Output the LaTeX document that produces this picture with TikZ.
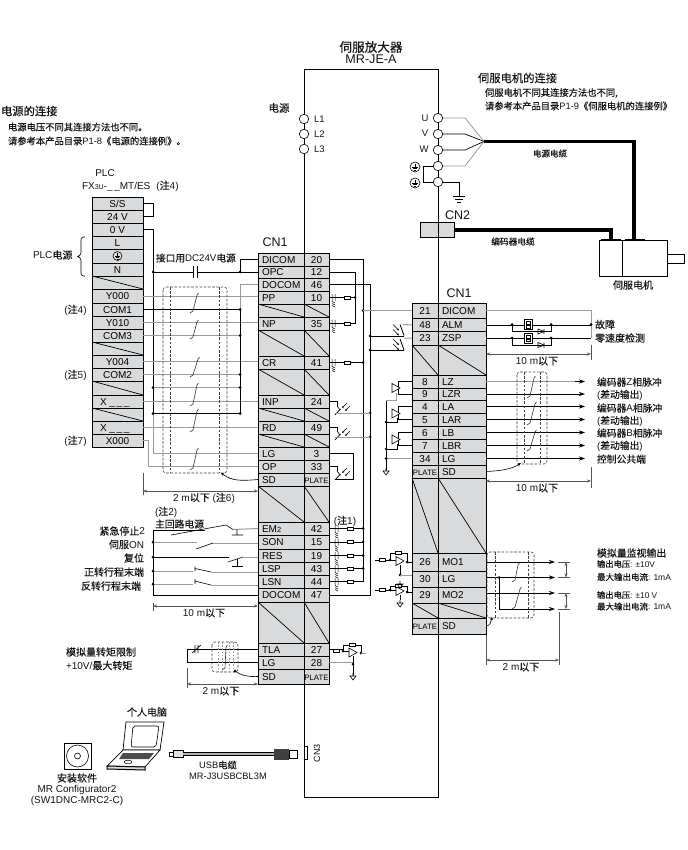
\documentclass[tikz,border=0pt]{standalone}
\usepackage{fontspec}
\setmainfont{Liberation Sans}
\newfontfamily\cjk[FakeBold=0.25]{Noto Sans CJK SC}
\usetikzlibrary{arrows.meta,calc}
\definecolor{cellgray}{HTML}{D9DADC}
\definecolor{wiregray}{HTML}{9A9A9A}
\definecolor{dimgray}{HTML}{555555}
\newcommand\zh[1]{{\cjk #1}}
\newcommand\fsz[1]{\fontsize{#1}{#1}\selectfont}
\tikzset{
  wb/.style={line width=.75pt,black},
  wg/.style={line width=1pt,wiregray},
  sym/.style={line width=.6pt,black},
  thickcable/.style={line width=3.6pt,black,line cap=butt},
  cellbox/.style={draw=black,line width=.8pt,fill=cellgray,inner sep=0pt,outer sep=0pt,text height=7.2pt,text depth=0pt,anchor=north west},
  txt/.style={inner sep=0pt,outer sep=0pt,text=black!92},
  dimline/.style={line width=.6pt,dimgray},
  dimarr/.style={line width=.6pt,dimgray,{Stealth[length=4pt,width=3pt]}-{Stealth[length=4pt,width=3pt]}},
  outarr/.style={line width=.75pt,-{Stealth[length=6pt,width=4pt]}},
  shieldbox/.style={line width=.6pt,dash pattern=on 2.6pt off 1.6pt,black!75},
  port/.style={draw=black,line width=.6pt,fill=white,circle,minimum size=9.5pt,inner sep=0pt,outer sep=0pt},
}
% name, x0,y0,x1,y1, alignment (l/c), text
\newcommand\tcell[7]{%
  \pgfmathsetlengthmacro\cw{(#4-#2)*1pt}%
  \pgfmathsetlengthmacro\ch{(#5-#3)*1pt}%
  \node[cellbox,minimum width=\cw,minimum height=\ch,font=\fsz{10}] (#1) at (#2,#3)
    {\makebox[\cw][#6]{\if#6l\hspace{4pt}\fi #7}};}
\newcommand\bcell[4]{%
  \draw[line width=.8pt,fill=cellgray] (#1,#3) rectangle (#2,#4);
  \draw[line width=.7pt] (#1,#3) -- (#2,#4);}
\newcommand\dual[5]{\bcell{#1}{#2}{#4}{#5}\bcell{#2}{#3}{#4}{#5}}
\newcommand\lab[6]{\node[txt,anchor=#2,font=\fsz{#5}] (#1) at (#3,#4) {#6};}
\newcommand\dotat[1]{\fill (#1) circle (1.5pt);}
\newcommand\res[2]{\draw[sym,fill=white] ($(#1,#2)+(-3.2,-1.7)$) rectangle ($(#1,#2)+(3.2,1.7)$);}
\newcommand\ledm[2]{\draw[line width=.5pt] (#1-2,#2-3.5)--(#1-2,#2+3.5) (#1+1,#2-3.5)--(#1+1,#2+3.5)
   (#1-2,#2+4)--(#1+1,#2+5.5) (#1-2,#2+6)--(#1+1,#2+7.5) (#1-2,#2+8)--(#1+1,#2+9.5);}
% left opto: base point x,y is collector wire turn; arrows upper right
\newcommand\optl[2]{\draw[sym] (#1,#2)--(#1+3,#2+4);
  \draw[line width=.7pt] (#1+3.5,#2+3)--(#1-2,#2+9);
  \draw[line width=.45pt,-{Stealth[length=2.5pt,width=2pt]}] (#1+10,#2-3)--(#1+5,#2+2);
  \draw[line width=.45pt,-{Stealth[length=2.5pt,width=2pt]}] (#1+13,#2)--(#1+8,#2+5);}
% right opto: collector at x,y going left
\newcommand\optr[2]{\draw[line width=.8pt] (#1,#2)--(#1+4,#2+11);
  \draw[line width=.5pt,-{Stealth[length=2.5pt,width=2pt]}] (#1-7,#2)--(#1-1,#2+6);
  \draw[line width=.5pt,-{Stealth[length=2.5pt,width=2pt]}] (#1-7,#2+5)--(#1-1,#2+11);}
\newcommand\twist[4]{\draw[line width=.6pt,black!80] (#1+1.5,#2)--(#1,#2+2)--(#3,#4-2)--(#3-3,#4);}
\newcommand\shield[6]{\draw[shieldbox,rounded corners=3pt] (#1,#2) rectangle (#3,#4);
   \draw[shieldbox] (#5,#2)--(#5,#4) (#6,#2)--(#6,#4);}
\newcommand\opa[2]{\draw[sym,fill=white] (#1-4,#2-4.5)--(#1+4,#2)--(#1-4,#2+4.5)--cycle;}
\newcommand\gtri[2]{\draw[sym] (#1,#2)--(#1,#2+3) (#1-3,#2+3)--(#1+3,#2+3)--(#1,#2+7)--cycle;}
\newcommand\earthsym[2]{\draw[line width=.5pt] (#1,#2-3.2)--(#1,#2) (#1-2.8,#2)--(#1+2.8,#2) (#1-1.9,#2+1.4)--(#1+1.9,#2+1.4) (#1-1,#2+2.8)--(#1+1,#2+2.8);}
\begin{document}
\begin{tikzpicture}[x=1pt,y=-1pt]
\useasboundingbox (0,0) rectangle (687,850);
\fill[white] (0,0) rectangle (687,850);
% ---------- amplifier ----------
\node[draw=black,line width=.8pt,anchor=north west,minimum width=134pt,minimum height=728pt,inner sep=0pt,outer sep=0pt] (amp) at (304,69) {};
\lab{ampA}{center}{371}{47}{12.6}{\zh{伺服放大器}}
\lab{ampB}{center}{371}{59.5}{12.6}{MR-JE-A}
% ---------- headings ----------
\lab{h1}{west}{1}{111}{11.3}{\zh{电源的连接}}
\lab{h1a}{west}{8}{127}{9.3}{\zh{电源电压不同其连接方法也不同。}}
\lab{h1b}{west}{8}{141}{9.3}{\zh{请参考本产品目录}P1-8\zh{《电源的连接例》。}}
\lab{h2}{west}{478}{78}{11.3}{\zh{伺服电机的连接}}
\lab{h2a}{west}{485}{93}{9.3}{\zh{伺服电机不同其连接方法也不同,}}
\lab{h2b}{west}{485}{106}{9.3}{\zh{请参考本产品目录}P1-9\zh{《伺服电机的连接例》}}
\lab{psu}{center}{279}{108}{10.5}{\zh{电源}}
% ---------- power terminals ----------
\node[port] (pL1) at (304,119) {};
\node[port] (pL2) at (304,134) {};
\node[port] (pL3) at (304,149) {};
\lab{tL1}{west}{314}{119}{9.5}{L1}
\lab{tL2}{west}{314}{134}{9.5}{L2}
\lab{tL3}{west}{314}{149}{9.5}{L3}
\coordinate (fan) at (484,141.5);
\coordinate (fanU) at (465,118);
\coordinate (fanV) at (465,134);
\coordinate (fanW) at (465,150);
\coordinate (fanE) at (465,166);
\node[port] (pU) at (438,118) {};
\node[port] (pV) at (438,134) {};
\node[port] (pW) at (438,150) {};
\node[port] (pE1) at (438,166) {};
\node[port] (pE2) at (438,182) {};
\lab{tU}{center}{425}{118}{9.5}{U}
\lab{tV}{center}{425}{133}{9.5}{V}
\lab{tW}{center}{424}{149}{9.5}{W}
\draw[wg,line width=.8pt] (pU.east)--(fanU)--(fan);
\draw[wb,line width=.7pt] (pV.east)--(fanV)--(fan);
\draw[wb,line width=.7pt] (pW.east)--(fanW)--(fan);
\draw[wg,line width=.8pt] (pE1.east)--(fanE)--(fan);
\node[port,minimum size=10pt] (e1) at (415,167) {};
\node[port,minimum size=10pt] (e2) at (415,183) {};
\earthsym{415}{167}\earthsym{415}{183}
\draw[wb] (pE1.west)--(423,166)--(423,182)--(pE2.west);
\coordinate (gndA) at (459,196);
\draw[wb] (pE2.east)-|(gndA);
\draw[line width=.6pt] (453,196)--(465,196) (455,199)--(463,199) (457,202)--(461,202);
% ---------- motor, cables ----------
\node[draw=black,line width=.8pt,anchor=north west,minimum width=68pt,minimum height=36pt,inner sep=0pt,outer sep=0pt] (motor) at (599,240) {};
\draw[line width=.8pt] (622,240)--(622,276);
\draw[line width=.8pt] (667,254) rectangle (684,263);
\draw[thickcable] (fan)--(634,141.5)--(634,240);
\draw[line width=2pt] (601,240)--(621,240) (625,240)--(645,240);
\node[cellbox,minimum width=34pt,minimum height=15.5pt,text height=0pt] (cn2) at (420,222) {};
\draw[line width=.7pt] (438,222)--(438,237.5);
\draw[thickcable] (cn2.east)-|(611,240);
\lab{tCN2}{center}{457.5}{215}{12.5}{CN2}
\lab{tpc}{center}{550}{153.5}{8.5}{\zh{电源电缆}}
\lab{tec}{center}{513}{241.5}{8.7}{\zh{编码器电缆}}
\lab{tmot}{center}{633}{285}{10}{\zh{伺服电机}}
% ---------- PLC labels ----------
\lab{plc}{center}{105}{173}{10}{PLC}
\lab{plcb}{west}{82}{186}{10}{FX{\fsz{7}3U}-\_\,\_MT/ES\hspace{6pt}(\zh{注}4)}
\lab{plcpow}{west}{33}{255}{10}{PLC\zh{电源}}
\draw[line width=.6pt,rounded corners=2.5pt] (85,237)--(81,237)--(81,255)--(77,256.5)--(81,258)--(81,276)--(85,276);
\lab{n4t}{center}{75.5}{310}{10}{(\zh{注}4)}
\lab{n5t}{center}{75.5}{375}{10}{(\zh{注}5)}
\lab{n7t}{center}{75.5}{441}{10}{(\zh{注}7)}
\lab{dc}{west}{156}{258}{9.7}{\zh{接口用}DC24V\zh{电源}}
\lab{cnl}{center}{275}{242}{12.5}{CN1}
\lab{cnr}{center}{459}{293}{12.5}{CN1}
% ---------- PLC cells ----------
\tcell{pSS}{92}{197}{143}{210}{c}{S/S}
\tcell{pTF}{92}{210}{143}{223}{c}{24 V}
\tcell{pZV}{92}{223}{143}{236}{c}{0 V}
\tcell{pL}{92}{236}{143}{249}{c}{L}
\tcell{pEa}{92}{249}{143}{263}{c}{}
\node[port,minimum size=9pt,fill=cellgray] (pEc) at (117.5,256) {};\earthsym{117.5}{256}
\tcell{pN}{92}{263}{143}{276}{c}{N}
\bcell{92}{143}{276}{289}
\tcell{pYa}{92}{289}{143}{303}{c}{Y000}
\tcell{pCa}{92}{303}{143}{316}{c}{COM1}
\tcell{pYb}{92}{316}{143}{329}{c}{Y010}
\tcell{pCb}{92}{329}{143}{342}{c}{COM3}
\bcell{92}{143}{342}{355}
\tcell{pYc}{92}{355}{143}{368}{c}{Y004}
\tcell{pCc}{92}{368}{143}{381}{c}{COM2}
\bcell{92}{143}{381}{395}
\tcell{pXa}{92}{395}{143}{408}{l}{\hspace{4pt}X \_\,\_\,\_}
\bcell{92}{143}{408}{421}
\tcell{pXb}{92}{421}{143}{434}{l}{\hspace{4pt}X \_\,\_\,\_}
\tcell{pXc}{92}{434}{143}{447}{c}{X000}
% ---------- CN1 left cells ----------
\tcell{lDICOM}{258}{253}{304}{266}{l}{DICOM}\tcell{r20}{304}{253}{329}{266}{c}{20}
\tcell{lOPC}{258}{266}{304}{278}{l}{OPC}\tcell{r12}{304}{266}{329}{278}{c}{12}
\tcell{lDOCOM}{258}{278}{304}{291}{l}{DOCOM}\tcell{r46}{304}{278}{329}{291}{c}{46}
\tcell{lPP}{258}{291}{304}{304}{l}{PP}\tcell{r10}{304}{291}{329}{304}{c}{10}
\dual{258}{304}{329}{304}{317}
\tcell{lNP}{258}{317}{304}{330}{l}{NP}\tcell{r35}{304}{317}{329}{330}{c}{35}
\dual{258}{304}{329}{330}{356}
\tcell{lCR}{258}{356}{304}{369}{l}{CR}\tcell{r41}{304}{356}{329}{369}{c}{41}
\dual{258}{304}{329}{369}{395}
\tcell{lINP}{258}{395}{304}{408}{l}{INP}\tcell{r24}{304}{395}{329}{408}{c}{24}
\dual{258}{304}{329}{408}{421}
\tcell{lRD}{258}{421}{304}{434}{l}{RD}\tcell{r49}{304}{421}{329}{434}{c}{49}
\dual{258}{304}{329}{434}{447}
\tcell{lLG}{258}{447}{304}{460}{l}{LG}\tcell{r3}{304}{447}{329}{460}{c}{3}
\tcell{lOP}{258}{460}{304}{473}{l}{OP}\tcell{r33}{304}{460}{329}{473}{c}{33}
\tcell{lSD}{258}{473}{304}{486}{l}{SD}\tcell{rPa}{304}{473}{329}{486}{c}{\fsz{7.8}PLATE}
\dual{258}{304}{329}{486}{522}
\tcell{lEM}{258}{522}{304}{535}{l}{EM{\fsz{7.5}2}}\tcell{r42}{304}{522}{329}{535}{c}{42}
\tcell{lSON}{258}{535}{304}{549}{l}{SON}\tcell{r15}{304}{535}{329}{549}{c}{15}
\tcell{lRES}{258}{549}{304}{562}{l}{RES}\tcell{r19}{304}{549}{329}{562}{c}{19}
\tcell{lLSP}{258}{562}{304}{575}{l}{LSP}\tcell{r43}{304}{562}{329}{575}{c}{43}
\tcell{lLSN}{258}{575}{304}{588}{l}{LSN}\tcell{r44}{304}{575}{329}{588}{c}{44}
\tcell{lDOb}{258}{588}{304}{602}{l}{DOCOM}\tcell{r47}{304}{588}{329}{602}{c}{47}
\dual{258}{304}{329}{602}{643}
\tcell{lTLA}{258}{643}{304}{656}{l}{TLA}\tcell{r27}{304}{643}{329}{656}{c}{27}
\tcell{lLGb}{258}{656}{304}{669}{l}{LG}\tcell{r28}{304}{656}{329}{669}{c}{28}
\tcell{lSDb}{258}{669}{304}{684}{l}{SD}\tcell{rPb}{304}{669}{329}{684}{c}{\fsz{7.8}PLATE}
% ---------- CN1 right cells ----------
\tcell{n21}{412}{303}{438}{318.5}{c}{21}\tcell{mDICOM}{438}{303}{486}{318.5}{l}{DICOM}
\tcell{n48}{412}{318.5}{438}{331.5}{c}{48}\tcell{mALM}{438}{318.5}{486}{331.5}{l}{ALM}
\tcell{n23}{412}{331.5}{438}{345}{c}{23}\tcell{mZSP}{438}{331.5}{486}{345}{l}{ZSP}
\dual{412}{438}{486}{345}{375}
\tcell{n8}{412}{375}{438}{388}{c}{8}\tcell{mLZ}{438}{375}{486}{388}{l}{LZ}
\tcell{n9}{412}{388}{438}{400}{c}{9}\tcell{mLZR}{438}{388}{486}{400}{l}{LZR}
\tcell{n4}{412}{400}{438}{413}{c}{4}\tcell{mLA}{438}{400}{486}{413}{l}{LA}
\tcell{n5}{412}{413}{438}{426}{c}{5}\tcell{mLAR}{438}{413}{486}{426}{l}{LAR}
\tcell{n6}{412}{426}{438}{439}{c}{6}\tcell{mLB}{438}{426}{486}{439}{l}{LB}
\tcell{n7}{412}{439}{438}{452}{c}{7}\tcell{mLBR}{438}{439}{486}{452}{l}{LBR}
\tcell{n34}{412}{452}{438}{465}{c}{34}\tcell{mLG}{438}{452}{486}{465}{l}{LG}
\tcell{nPa}{412}{465}{438}{478}{c}{\fsz{7.8}PLATE}\tcell{mSD}{438}{465}{486}{478}{l}{SD}
\dual{412}{438}{486}{478}{553}
\tcell{n26}{412}{553}{438}{571}{c}{26}\tcell{mMOa}{438}{553}{486}{571}{l}{MO1}
\tcell{n30}{412}{571}{438}{587}{c}{30}\tcell{mLGb}{438}{571}{486}{587}{l}{LG}
\tcell{n29}{412}{587}{438}{603}{c}{29}\tcell{mMOb}{438}{587}{486}{603}{l}{MO2}
\dual{412}{438}{486}{603}{618}
\tcell{nPb}{412}{618}{438}{634}{c}{\fsz{7.8}PLATE}\tcell{mSDb}{438}{618}{486}{634}{l}{SD}
% ---------- PLC to CN1 wiring ----------
\coordinate (busL) at (153,413.5);
\coordinate (busR) at (240,272);
\coordinate (busG) at (240,413.5);
\coordinate (busGg) at (153,453.5);
\draw[wb] (pSS.east)--++(10,0)|-(pTF.east);
\draw[wb] (pZV.east)-|(busL);
\draw[wg] (busL)--(busGg)--(lLG.west);
\draw[wb] (lDICOM.west)-|(busR);
\draw[wb] (busR)--(lOPC.west);
\draw[wb] (busL |- busR)--(193,272);
\draw[wb] (197,272)--(busR);
\draw[line width=1pt] (193,266)--(193,278);
\draw[line width=1pt] (197,266)--(197,278);
\draw[wg] (pYa.east)--(pYa.east -| lPP.west);
\draw[wg] (pYb.east)--(pYb.east -| lNP.west);
\draw[wg] (pYc.east)--(pYc.east -| lCR.west);
\draw[wg] (pXa.east)--(pXa.east -| lINP.west);
\draw[wg] (pXb.east)--(pXb.east -| lRD.west);
\draw[wg] (pXc.east)--(148,440.5)--(148,466.5)--(lOP.west);
\draw[wg] (lDOCOM.west)--(240,284.5)--(240,309.5);
\draw[wb] (240,309.5)--(busG);
\draw[wb] (pCa.east)--(pCa.east -| busG);
\draw[wg] (pCb.east)--(pCb.east -| busG);
\draw[wg] (pCc.east)--(pCc.east -| busG);
\draw[wg] (153,387.5)--(240,387.5);
\draw[wb] (busL)--(busG);
\foreach \p in {{153,272},{240,272},{240,309.5},{240,335.5},{240,374.5},{240,387.5},{153,387.5},{153,413.5},{240,413.5}} {\dotat{\p}}
\shield{163}{287}{227}{473}{170}{219}
\twist{197}{293}{193}{313}
\twist{197}{320}{193}{339}
\twist{198}{357}{193}{377}
\twist{197}{383}{193}{406}
\twist{197}{409}{193}{432}
\twist{197}{448}{193}{470}
\draw[line width=.6pt,-{Stealth[length=3pt,width=3pt]}] (lSD.west) .. controls (240,481) and (232,481) .. (221,473);
\draw[dimline] (143,473)--(143,495);
\draw[dimarr] (143,491)--(258,491);
\lab{d1}{center}{204}{498}{10}{2 m\zh{以下} (\zh{注}6)}
% ---------- right of CN1 left ----------
\coordinate (busA) at (363,581.5);
\coordinate (busB) at (370,595);
\coordinate (busC) at (355,323.5);
\draw[wb] (r20.east)-|(busA);
\draw[wb] (r46.east)-|(busB)--(r47.east);
\draw[wb] (r12.east)-|(busC)--(r35.east);
\draw[wb] (r10.east)--(r10.east -| busC);
\draw[wb] (r41.east)--(r41.east -| busA);
\foreach \a in {r42,r15,r19,r43,r44} {\draw[wb] (\a.east)--(\a.east -| busA);}
\foreach \y in {297.5,323.5,362.5} {\res{347}{\y}\ledm{334}{\y}}
\foreach \y in {528.5,542,555.5,568.5,581.5} {\res{350}{\y}\ledm{337}{\y}}
\dotat{355,297.5}\dotat{363,362.5}\dotat{363,310.5}
\foreach \y in {528.5,542,555.5,568.5} {\dotat{363,\y}}
\foreach \y in {336,350,413,437} {\dotat{370,\y}}
\draw[wb] (r24.east)--(337,401.5)--(337,406);\optl{337}{406}
\draw[wb] (r49.east)--(337,427.5)--(337,431);\optl{337}{431}
\draw[wg] (335,413)--(370,413);
\draw[wg] (335,437)--(370,437);
\draw[wb] (r33.east)--(337,466.5)--(337,471);\optl{337}{471}
\draw[wb] (r3.east)--(353.5,453.5)--(353.5,479)--(335,479);
\draw[wg] (mDICOM.west -| busA)--(n21.west);
\draw[wg] (n48.west)--(403,324.5);
\draw[wg] (n23.west)--(404,338);
\optr{400}{324.5}\optr{400}{339}
\draw[wb] (370,336)--(404,336);
\draw[wb] (370,350)--(404,350);
% ---------- line drivers ----------
\foreach \t/\b/\c in {n8/n9/388,n4/n5/413.5,n6/n7/439.5} {
  \draw[wb] (\t.west)-|(398,\c);
  \draw[wb] (\b.west)-|(398,\c);
  \opa{396}{\c}
}
\coordinate (busD) at (386,470);
\draw[wb] (386,400)--(busD);
\draw[wg] (386,400)--(396,400)--(396,393);
\draw[wb] (386,422)--(397,422)--(397,418);
\draw[wb] (386,449)--(397,449)--(397,444);
\draw[wg] (n34.west)--(386,458.5);
\dotat{386,422}\dotat{386,449}\dotat{386,458.5}
\gtri{386}{468}
% ---------- right outputs ----------
\lab{oF}{west}{595}{324.5}{10}{\zh{故障}}
\lab{oZ}{west}{595}{338}{10}{\zh{零速度检测}}
\lab{oa}{west}{597}{382}{9.8}{\zh{编码器}Z\zh{相脉冲}}
\lab{ob}{west}{597}{395}{9.8}{(\zh{差动输出})}
\lab{oc}{west}{597}{408}{9.8}{\zh{编码器}A\zh{相脉冲}}
\lab{od}{west}{597}{421}{9.8}{(\zh{差动输出})}
\lab{oe}{west}{597}{433}{9.8}{\zh{编码器}B\zh{相脉冲}}
\lab{of}{west}{597}{446}{9.8}{(\zh{差动输出})}
\lab{og}{west}{597}{459}{9.8}{\zh{控制公共端}}
\coordinate (busE) at (591,338);
\draw[wg] (mDICOM.east)-|(busE);
\draw[wb] (mALM.east)--(mALM.east -| busE);
\draw[wb] (mZSP.east)--(mZSP.east -| busE);
\dotat{591,324.5}
\foreach \y in {324.5,338} {
  \dotat{512,\y}\dotat{551,\y}
  \draw[sym] (512,\y)--(512,\y+7)--(551,\y+7)--(551,\y);
  \draw[sym,fill=white] (524,\y-5) rectangle (532,\y+5);
  \draw[line width=.4pt] (526,\y-3) rectangle (530,\y) (526,\y+1) rectangle (530,\y+3.5);
  \draw[sym] (538,\y+4.5)--(544,\y+7)--(538,\y+9.5)--cycle (544,\y+4.5)--(544,\y+9.5);
}
\foreach \c/\o in {mLZ/oa,mLZR/ob,mLA/oc,mLAR/od,mLB/oe,mLBR/of,mLG/og} {
  \draw[wb,outarr,shorten >=12pt] (\c.east)--(\c.east -| \o.west);
}
\draw[wg] (mLZ.east)--(575,381.5);
\shield{517}{372}{547}{464}{524}{540}
\twist{534}{376}{530}{398}
\twist{535}{402}{530}{425}
\twist{535}{430}{530}{451}
\draw[line width=.6pt,-{Stealth[length=4pt,width=3pt]}] (mSD.east) .. controls (500,471) and (512,469) .. (521,463);
\draw[dimline] (591,345)--(591,360);
\draw[dimarr] (486,354)--(591,354);
\lab{d2}{center}{537}{361}{10}{10 m\zh{以下}}
\draw[dimline] (591,467)--(591,488);
\draw[dimarr] (486,481)--(591,481);
\lab{d3}{center}{537}{488}{10}{10 m\zh{以下}}
% ---------- input switches ----------
\coordinate (busI) at (153,595);
\lab{ia}{east}{145}{531}{10}{\zh{紧急停止}2}
\lab{ib}{east}{144}{544.5}{10}{\zh{伺服}ON}
\lab{ic}{east}{144}{558}{10}{\zh{复位}}
\lab{id}{east}{144}{572}{10}{\zh{正转行程末端}}
\lab{ie}{east}{141}{586}{10}{\zh{反转行程末端}}
\lab{ig}{west}{155}{512}{10}{(\zh{注}2)}
\lab{ih}{west}{155}{524}{9.8}{\zh{主回路电源}}
\draw[wb] (153,530)--(205,530);
\draw[wb] (153,530)--(busI)--(lDOb.west);
\draw[sym] (171,535)--(226,525);
\draw[wg] (233,529.5)--(lEM.west);
\draw[sym] (226,525)--(233,529.5) (237,529.5)--(237,535) (232,535)--(243,535);
\draw[wg] (153,542)--(197,542);
\draw[sym] (196,549)--(213,543);
\draw[wg] (213,543)--(258,543);
\draw[wb] (153,557)--(229,557);
\draw[sym] (228,562)--(243,557);
\draw[wg] (243,557)--(258,557);
\draw[sym] (237,559)--(237,566) (232,566)--(243,566);
\draw[wg] (153,571)--(193,571);
\draw[sym] (195,566.5)--(195,571) (195,568.5)--(211,572);
\draw[wg] (211,572)--(258,572);
\draw[wg] (153,584)--(193,584);
\draw[sym] (195,579)--(195,584) (195,581)--(211,585);
\draw[wg] (211,585)--(258,585);
\foreach \y in {542,557,571,584} {\dotat{153,\y}}
\draw[dimline] (153,603)--(153,611);
\draw[dimarr] (153,606)--(258,606);
\lab{d4}{center}{204}{613}{10}{10 m\zh{以下}}
\lab{n1t}{center}{345}{521}{10}{(\zh{注}1)}
% ---------- analog torque limit ----------
\lab{at}{west}{66}{652}{10}{\zh{模拟量转矩限制}}
\lab{au}{west}{66}{665.5}{10}{+10V/\zh{最大转矩}}
\draw[wb] (lTLA.west)--(187,649.5)--(187,662.5)--(lLGb.west);
\draw[sym] (195,645)--(195,653) (198,645)--(198,653) (192,653)--(201,645);
\draw[shieldbox,rounded corners=3pt] (212,642) rectangle (238,672);
\draw[line width=.6pt,dash pattern=on 1.6pt off 1.6pt,black!40] (218,642)--(218,672) (222,642)--(222,672) (229,642)--(229,672) (233,642)--(233,672);
\twist{226}{645}{225}{670}
\dotat{235,671}
\draw[sym] (235,671) .. controls (240,675) and (248,677) .. (lSDb.west);
\draw[dimline] (187,668)--(187,688);
\draw[dimarr] (187,684)--(258,684);
\lab{d5}{center}{221}{691}{10}{2 m\zh{以下}}
\draw[wb] (r27.east)--(343,649.5)--(343,645)--(361,645)--(361,653);
\draw[wb] (343,651)--(349,651);
\draw[wg] (r28.east)--(353,662.5);
\draw[wb] (353,656)--(353,675);
\opa{353}{652.5}
\res{336}{651}\res{352}{645}
\dotat{343,651}\dotat{361,653}\dotat{353,664}
\draw[wg] (361,653)--(366,653);
\gtri{353}{673}
% ---------- analog monitor ----------
\foreach \y/\top/\bot in {560/553/575,590/586/600} {
  \draw[wb] (375,\y)--(390,\y)--(390,\top)--(407,\top)--(407,\y+2)--(412,\y+2);
  \draw[wb] (390,\y)--(396,\y);
  \draw[wb] (400,\y+5)--(400,\bot);
  \opa{400}{\y+1}
  \res{382}{\y}\res{398}{\top}
  \dotat{390,\y}\dotat{407,\y+2}
}
\dotat{400,575}
\draw[wg] (400,575)--(412,575);
\gtri{400}{581}\gtri{400}{600}
\coordinate (arrA) at (555,562);\coordinate (arrB) at (555,577.5);\coordinate (arrC) at (555,593);\coordinate (arrD) at (555,609);
\draw[wb,outarr] (mMOa.east)--(arrA);
\draw[wb,outarr] (arrB -| mLGb.east)--(arrB);
\draw[wb,outarr] (arrC -| mMOb.east)--(arrC);
\draw[wb,outarr] (499,577.5)--(499,609)--(arrD);
\dotat{499,577.5}
\shield{487}{552}{534}{618}{495}{528}
\twist{518}{563}{515}{582}
\twist{520}{587}{515}{609}
\draw[line width=.6pt,-{Stealth[length=3pt,width=3pt]}] (mSDb.east) .. controls (490,626) and (491,622) .. (492,617);
\draw[dimline] (558,562)--(570,562) (558,577.5)--(570,577.5) (558,593)--(570,593) (558,609)--(570,609);
\draw[dimarr] (566,562)--(566,577.5);
\draw[dimarr] (566,593)--(566,609);
\draw[dimline] (486,635)--(486,665) (559,612)--(559,665);
\draw[dimarr] (486,660)--(559,660);
\lab{d6}{center}{521}{667}{10}{2 m\zh{以下}}
\lab{ma}{west}{597}{553}{9.9}{\zh{模拟量监视输出}}
\lab{mb}{west}{597}{564}{8.3}{\zh{输出电压}: ±10V}
\lab{mc}{west}{597}{577}{8.5}{\zh{最大输出电流}: 1mA}
\lab{md}{west}{597}{595}{8.3}{\zh{输出电压}: ±10 V}
\lab{me}{west}{597}{606.5}{8.5}{\zh{最大输出电流}: 1mA}
% ---------- PC, software, USB ----------
\draw[line width=.7pt,fill=white] (64,743) rectangle (91,769);
\draw[line width=.6pt,fill=white] (77.5,756) circle (11);
\draw[line width=.6pt,fill=white] (77.5,756) circle (3);
\lab{sa}{center}{77}{778}{10}{\zh{安装软件}}
\lab{sb}{center}{77}{789.5}{10}{MR Configurator2}
\lab{sc}{center}{77}{801}{10}{(SW1DNC-MRC2-C)}
\lab{pca}{center}{147}{712}{10}{\zh{个人电脑}}
\draw[line width=.7pt,fill=white] (126,722)--(164,722)--(160,750)--(123,750)--cycle;
\draw[line width=.6pt,rounded corners=2pt] (133,726)--(159,726)--(156,747)--(131,747)--cycle;
\draw[line width=.7pt,fill=white] (123,750)--(160,750)--(145,767)--(107,766)--cycle;
\draw[line width=1pt,fill=black!15] (107,766)--(145,767)--(145,770)--(107,769)--cycle;
\fill[black!70] (123,753)--(154,753)--(149,759)--(119,759)--cycle;
\draw[line width=.5pt] (128,762) ellipse (4 and 1.8);
\draw[line width=.7pt,fill=white] (169,752) rectangle (173,756.5);
\draw[line width=.7pt,fill=black!12] (173,750.5) rectangle (183,757.5);
\draw[line width=4.6pt,black] (183,754)--(274,754);
\draw[line width=2.8pt,black!30] (183,754)--(274,754);
\fill[black!75] (274,749) rectangle (289,760);
\draw[line width=.7pt,fill=white] (289,750) rectangle (297,758);
\draw[line width=.7pt] (305,746)--(307,746)--(307,759)--(305,759);
\node[txt,rotate=90,font=\fsz{9}] (cn3) at (317,753) {CN3};
\lab{usa}{center}{218}{765}{9.3}{USB\zh{电缆}}
\lab{usb}{center}{228}{776}{9.3}{MR-J3USBCBL3M}
\end{tikzpicture}
\end{document}
